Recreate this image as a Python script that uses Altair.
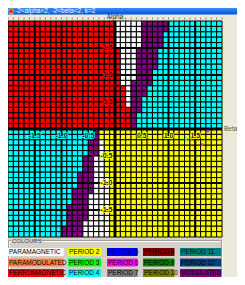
import re
import altair as alt
import pandas as pd

TITLE = "-2<alpha<2, -2<beta<2, k=2"

# Phase map, run-length coded.
# 40 rows: alpha from 2 down to -2 (0.1 per row); 40 columns: beta from -2 to 2 (0.1 per column)
# R ferromagnetic, W paramagnetic, P modulated, C period 4, Y period 2
phase_rows = [
    "R20W5P5C10", "R20W5P5C10", "R20W5P4C11", "R20W5P4C11", "R20W5P4C11",
    "R21W3P4C12", "R21W3P4C12", "R21W3P4C12", "R21W3P4C12", "R21W3P3C13",
    "R21W3P3C13", "R21W2P4C13", "R22W1P3C14", "R22W1P3C14", "R22W1P2C15",
    "R22W1P2C15", "R23P2C15", "R23P1C16", "R23P1C16", "R23P1C16",
    "C16P1Y23", "C16P1Y23", "C15P2W1Y22", "C15P2W1Y22", "C15P2W1Y22",
    "C14P2W2Y22", "C14P2W2Y22", "C14P2W2Y22", "C13P3W2Y22", "C13P3W3Y21",
    "C13P3W3Y21", "C12P4W3Y21", "C12P3W4Y21", "C12P3W4Y21", "C11P4W4Y21",
    "C11P4W4Y21", "C11P4W4Y21", "C11P3W5Y21", "C10P4W5Y21", "C10P4W5Y21",
]
phase_codes = ["W", "R", "P", "C", "Y"]
phase_colors = ["#FFFFFF", "#FF0000", "#800080", "#00FFFF", "#FFFF00"]

tick_values = [-1.5, -1.0, -0.5, 0.5, 1.0, 1.5]
tick_labels = ["-1.5", "-1.0", "-0.5", "0.5", "1.0", "1.5"]
beta_label_bg = ["#00FFFF", "#00FFFF", "#00FFFF", "#FFFF00", "#FFFF00", "#FFFF00"]
alpha_label_bg = ["#FFFF00", "#FFFF00", "#FFFF00", "#FF0000", "#FF0000", "#FF0000"]
heavy_lines = [-1.5, -1.0, 1.0, 1.5]

speck_beta = [0.49, 0.60, 1.33, 1.42, 1.73, 1.63]
speck_alpha = [-0.09, -0.15, -0.18, -0.18, -0.04, -0.29]
speck_color = ["#800080", "#FF00FF", "#00FFFF", "#FF00FF", "#FF00FF", "#FF00FF"]

legend_labels = ["PARAMAGNETIC", "PARAMODULATED", "FERROMAGNETIC",
                 "PERIOD 2", "PERIOD 3", "PERIOD 4",
                 "PERIOD 5", "PERIOD 6", "PERIOD 7",
                 "PERIOD 8", "PERIOD 9", "PERIOD 10",
                 "PERIOD 11", "PERIOD 12", "MODULATED"]
legend_colors = ["#FFFFFF", "#FF8040", "#FF0000",
                 "#FFFF00", "#00FF00", "#00FFFF",
                 "#0000FF", "#FF00FF", "#808080",
                 "#800000", "#008000", "#808000",
                 "#008080", "#004080", "#800080"]

FONT = "Liberation Sans"
W, H = 214, 216

# ---- build tables ----
cells = []
for r, rle in enumerate(phase_rows):
    codes = "".join(ch * int(n) for ch, n in re.findall(r"([A-Z])(\d+)", rle))
    assert len(codes) == 40, (r, len(codes))
    for c, ch in enumerate(codes):
        b0 = round(-2 + 0.1 * c, 2)
        a0 = round(2 - 0.1 * r, 2)
        cells.append({"b0": b0, "b1": round(b0 + 0.1, 2), "a0": a0, "a1": round(a0 - 0.1, 2), "phase": ch})
cells = pd.DataFrame(cells)

xs = alt.Scale(domain=[-2, 2], nice=False, zero=False)
ys = alt.Scale(domain=[-2, 2], nice=False, zero=False)

one = pd.DataFrame({"k": [0]})

legend_bg = alt.Chart(one).mark_rect(fill="#D4D0C8").encode(
    x=alt.value(0), x2=alt.value(W), y=alt.value(H + 1), y2=alt.value(H + 60))
groupbox = alt.Chart(one).mark_rect(fill=None, stroke="#9D9D9D", strokeWidth=1).encode(
    x=alt.value(0.5), x2=alt.value(W - 0.5), y=alt.value(H + 3.5), y2=alt.value(H + 70))
groupbox2 = alt.Chart(one).mark_rect(fill=None, stroke="#FFFFFF", strokeWidth=1).encode(
    x=alt.value(1.5), x2=alt.value(W + 0.5), y=alt.value(H + 4.5), y2=alt.value(H + 70))
colours_bg = alt.Chart(one).mark_rect(fill="#D4D0C8").encode(
    x=alt.value(3), x2=alt.value(25), y=alt.value(H + 1), y2=alt.value(H + 7))
colours_txt = alt.Chart(pd.DataFrame({"t": ["COLOURS"]})).mark_text(
    font=FONT, fontSize=6, color="#3A4A6A", align="left", baseline="middle").encode(
    x=alt.value(4), y=alt.value(H + 4), text="t:N")

bar = alt.Chart(one).mark_rect(
    fill=alt.Gradient(gradient="linear", stops=[alt.GradientStop(color="#3C8CF8", offset=0),
                                                alt.GradientStop(color="#0050DC", offset=1)],
                      x1=0, x2=0, y1=0, y2=1)).encode(
    x=alt.value(0), x2=alt.value(W + 15), y=alt.value(-13), y2=alt.value(-6.5))
icon = alt.Chart(one).mark_rect(fill="#E02010", stroke="#F0D000", strokeWidth=0.8).encode(
    x=alt.value(1), x2=alt.value(5), y=alt.value(-12), y2=alt.value(-7.5))
bar_txt = alt.Chart(pd.DataFrame({"t": [TITLE]})).mark_text(
    font=FONT, fontSize=6.5, color="white", align="left", baseline="middle").encode(
    x=alt.value(7), y=alt.value(-9.7), text="t:N")

cell_layer = alt.Chart(cells).mark_rect(stroke="black", strokeWidth=1).encode(
    x=alt.X("b0:Q", scale=xs, axis=None), x2="b1:Q",
    y=alt.Y("a0:Q", scale=ys, axis=None), y2="a1:Q",
    color=alt.Color("phase:N", scale=alt.Scale(domain=phase_codes, range=phase_colors), legend=None))

heavy = pd.DataFrame({"v": heavy_lines, "lo": -2.0, "hi": 2.0})
heavy_v = alt.Chart(heavy).mark_rule(color="black", strokeWidth=2).encode(
    x=alt.X("v:Q", scale=xs, axis=None), y=alt.Y("lo:Q", scale=ys, axis=None), y2="hi:Q")
heavy_h = alt.Chart(heavy).mark_rule(color="black", strokeWidth=2).encode(
    y=alt.Y("v:Q", scale=ys, axis=None), x=alt.X("lo:Q", scale=xs, axis=None), x2="hi:Q")
zero = pd.DataFrame({"v": [0.0], "lo": -2.0, "hi": 2.0})
zero_v = alt.Chart(zero).mark_rule(color="black", strokeWidth=3).encode(
    x=alt.X("v:Q", scale=xs, axis=None), y=alt.Y("lo:Q", scale=ys, axis=None), y2="hi:Q")
zero_h = alt.Chart(zero).mark_rule(color="black", strokeWidth=3).encode(
    y=alt.Y("v:Q", scale=ys, axis=None), x=alt.X("lo:Q", scale=xs, axis=None), x2="hi:Q")

ruler = pd.DataFrame({"v": [round(-2 + 0.1 * i, 2) for i in range(41)]})
ruler_layer = alt.Chart(ruler).mark_rule(color="#808080", strokeWidth=1).encode(
    x=alt.X("v:Q", scale=xs, axis=None), y=alt.value(-3.5), y2=alt.value(-1.5))

specks = pd.DataFrame({"b": speck_beta, "a": speck_alpha, "c": speck_color})
speck_layer = alt.Chart(specks).mark_square(size=6, opacity=1).encode(
    x=alt.X("b:Q", scale=xs, axis=None), y=alt.Y("a:Q", scale=ys, axis=None),
    color=alt.Color("c:N", scale=None))

ticks = pd.DataFrame({"v": tick_values, "t": tick_labels, "z": 0.0,
                      "bh": beta_label_bg, "ah": alpha_label_bg})


def beta_labels(halo):
    props = dict(font=FONT, fontSize=7, fontWeight="bold", baseline="top", dy=2.5)
    if halo:
        m = alt.Chart(ticks).mark_text(strokeWidth=1.5, **props)
        enc = dict(stroke=alt.Stroke("bh:N", scale=None), color=alt.Color("bh:N", scale=None))
    else:
        m = alt.Chart(ticks).mark_text(color="#1A1A1A", **props)
        enc = {}
    return m.encode(x=alt.X("v:Q", scale=xs, axis=None), y=alt.Y("z:Q", scale=ys, axis=None),
                    text="t:N", **enc)


def alpha_labels(halo):
    props = dict(font=FONT, fontSize=7, fontWeight="bold", align="right", baseline="middle", dx=-2.5)
    if halo:
        m = alt.Chart(ticks).mark_text(strokeWidth=1.5, **props)
        enc = dict(stroke=alt.Stroke("ah:N", scale=None), color=alt.Color("ah:N", scale=None))
    else:
        m = alt.Chart(ticks).mark_text(color="#1A1A1A", **props)
        enc = {}
    return m.encode(y=alt.Y("v:Q", scale=ys, axis=None), x=alt.X("z:Q", scale=xs, axis=None),
                    text="t:N", **enc)


names = pd.DataFrame({"t": ["Alpha"], "z": [0.0]})
alpha_name = alt.Chart(names).mark_text(font=FONT, fontSize=6.5, color="#333333",
                                        baseline="alphabetic").encode(
    x=alt.X("z:Q", scale=xs, axis=None), y=alt.value(-2), text="t:N")
beta_name = alt.Chart(pd.DataFrame({"t": ["Beta"], "z": [0.0]})).mark_text(
    font=FONT, fontSize=6.5, color="#555555", align="left", baseline="middle").encode(
    x=alt.value(W + 2), y=alt.Y("z:Q", scale=ys, axis=None), text="t:N")

leg = pd.DataFrame({"label": legend_labels, "color": legend_colors})
leg["col"] = [i // 3 for i in range(len(leg))]
leg["row"] = [i % 3 for i in range(len(leg))]
lx = alt.Scale(domain=[0, 1, 2, 3, 4, 5], range=[0, 60, 99, 135, 172, 214])
ly = alt.Scale(domain=[0, 3], range=[H + 11, H + 42.5])
leg_box = alt.Chart(leg).transform_calculate(
    col2="datum.col + (datum.col == 0 ? 0.93 : (datum.col == 4 ? 0.98 : 0.85))",
    row2="datum.row + 0.76").mark_rect().encode(
    x=alt.X("col:Q", scale=lx, axis=None), x2="col2:Q",
    y=alt.Y("row:Q", scale=ly, axis=None), y2="row2:Q",
    color=alt.Color("color:N", scale=None))


def legend_text(first):
    base = alt.Chart(leg).transform_filter(
        "datum.col == 0" if first else "datum.col > 0").transform_calculate(rowm="datum.row + 0.4")
    return base.mark_text(font=FONT, fontSize=6.5, color="#000000", align="left",
                          baseline="middle", dx=1, limit=59 if first else 45, ellipsis="").encode(
        x=alt.X("col:Q", scale=lx, axis=None),
        y=alt.Y("rowm:Q", scale=ly, axis=None), text="label:N")


chart = alt.layer(
    legend_bg, groupbox2, groupbox, colours_bg, colours_txt,
    bar, icon, bar_txt,
    cell_layer, heavy_v, heavy_h, zero_v, zero_h, ruler_layer, speck_layer,
    beta_labels(True), beta_labels(False), alpha_labels(True), alpha_labels(False),
    alpha_name, beta_name,
    leg_box, legend_text(True), legend_text(False),
).resolve_scale(x="independent", y="independent", color="independent", stroke="independent").properties(
    width=W, height=H,
    padding={"left": 0, "top": 13, "right": 15, "bottom": 40},
    autosize=alt.AutoSizeParams(type="none"),
    background="#ECE9D8",
).configure_view(stroke=None)

chart.save("out.html", embed_options={"renderer": "svg", "actions": False})
